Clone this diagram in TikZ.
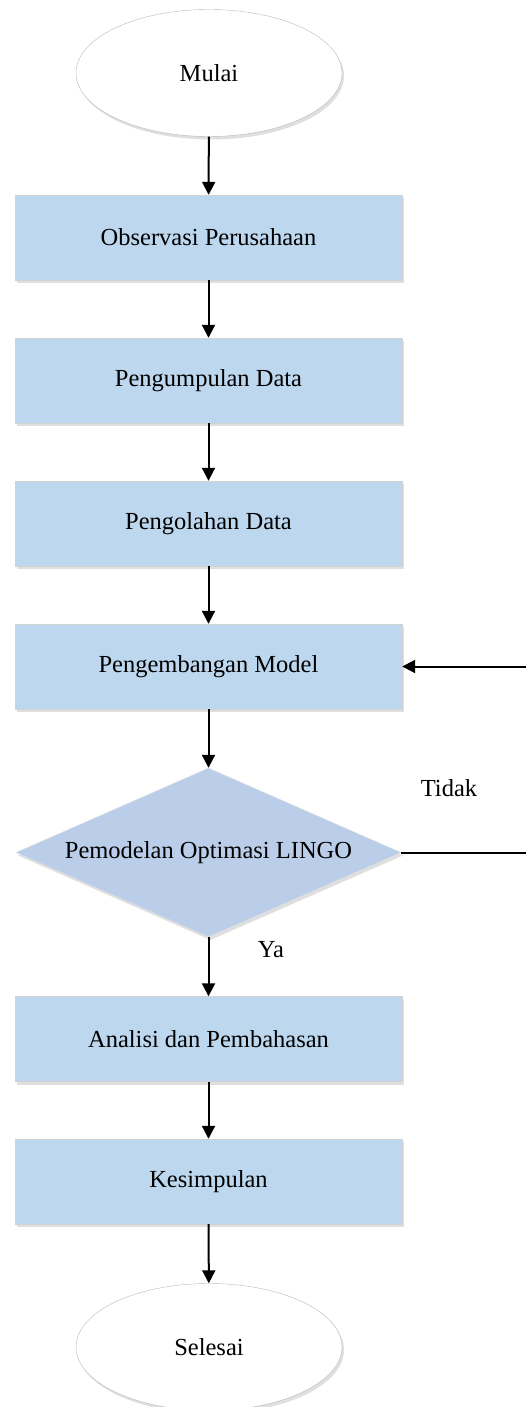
\documentclass[tikz,border=0pt]{standalone}
\usepackage{fontspec}
\setmainfont{Liberation Serif}
\usetikzlibrary{shapes.geometric,arrows.meta,shadows}
\definecolor{boxblue}{RGB}{189,215,238}
\definecolor{diamblue}{RGB}{186,206,233}

\begin{document}
\begin{tikzpicture}[x=1pt,y=-1pt,
    every node/.style={font=\fontsize{24.5}{29}\selectfont},
    bayang/.style={drop shadow={shadow xshift=2pt,shadow yshift=-3pt,opacity=.25}},
    proses/.style={rectangle,draw=gray!35,fill=boxblue,minimum width=387pt,minimum height=85pt,bayang},
    terminal/.style={ellipse,draw=gray!55,fill=white,minimum width=266pt,minimum height=127pt,bayang},
    keputusan/.style={diamond,draw=gray!25,fill=diamblue,aspect=2.28,inner sep=0pt,minimum width=385pt,minimum height=169pt,bayang},
    panah/.style={line width=2pt,-{Triangle[length=13pt,width=13pt]}},
    garis/.style={line width=2pt}
]
    \useasboundingbox (0,0) rectangle (526,1407);
    % alur utama
    \node[terminal] (mulai) at (209,73) {Mulai};
    \node[proses] (observasi) at (208.5,237.5) {Observasi Perusahaan};
    \node[proses] (kumpul) at (208.5,380.5) {Pengumpulan Data};
    \node[proses] (olah) at (208.5,523.5) {Pengolahan Data};
    \node[proses] (model) at (208.5,666.5) {Pengembangan Model};
    \node[keputusan] (lingo) at (208.5,852.5) {Pemodelan Optimasi LINGO};
    \node[proses] (analisis) at (208.5,1039) {Analisi dan Pembahasan};
    \node[proses] (simpul) at (208.5,1181.5) {Kesimpulan};
    \node[terminal] (selesai) at (209,1347) {Selesai};
    \node (tidak) at (449,788) {Tidak};
    \node (ya) at (271,950) {Ya};
    \coordinate (kanan1) at (526,852.5);
    \coordinate (kanan2) at (526,666.5);
    % panah
    \draw[panah] (mulai) -- (observasi);
    \draw[panah] (observasi) -- (kumpul);
    \draw[panah] (kumpul) -- (olah);
    \draw[panah] (olah) -- (model);
    \draw[panah] (model) -- (lingo);
    \draw[panah] (lingo) -- (analisis);
    \draw[panah] (analisis) -- (simpul);
    \draw[panah] (simpul) -- (selesai);
    \draw[garis] (lingo.east) -- (kanan1);
    \draw[panah] (kanan2) -- (model.east);
\end{tikzpicture}
\end{document}
